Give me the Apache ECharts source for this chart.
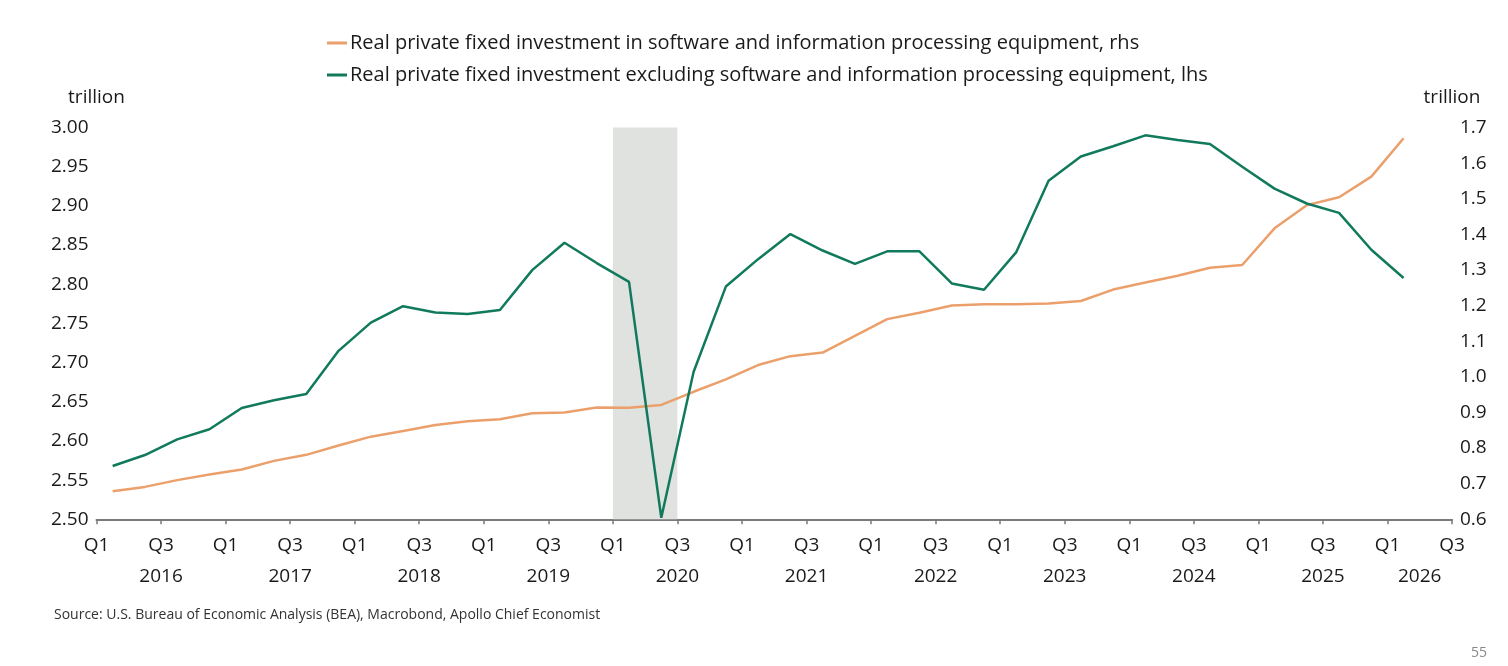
<!DOCTYPE html>
<html>
<head>
<meta charset="utf-8">
<script src="https://cdn.jsdelivr.net/npm/echarts@6/dist/echarts.min.js"></script>
<style>
  html, body { margin: 0; padding: 0; background: #fff; }
  #chart { width: 1508px; height: 666px; }
</style>
</head>
<body>
<div id="chart"></div>
<script>
// quarters 2016 Q1 .. 2026 Q1, one value per quarter
var firstYear = 2016;
var quarterCount = 42; // axis runs 2016 Q1 .. 2026 Q3

// Real private fixed investment excluding software & info processing equipment (lhs)
var exSoftware = [
    2.568, 2.582, 2.602, 2.615, 2.642, 2.652, 2.660, 2.715, 2.751, 2.772,
    2.764, 2.762, 2.767, 2.818, 2.853, 2.827, 2.803, 2.502, 2.688, 2.797,
    2.832, 2.864, 2.843, 2.826, 2.842, 2.842, 2.801, 2.793, 2.841, 2.932,
    2.963, 2.976, 2.990, 2.984, 2.979, 2.950, 2.922, 2.903, 2.891, 2.844,
    2.808
];
// Real private fixed investment in software & info processing equipment (rhs)
var software = [
    0.679, 0.691, 0.710, 0.726, 0.740, 0.764, 0.781, 0.807, 0.832, 0.848,
    0.865, 0.875, 0.881, 0.898, 0.900, 0.914, 0.913, 0.921, 0.958, 0.993,
    1.033, 1.058, 1.068, 1.115, 1.162, 1.180, 1.200, 1.204, 1.204, 1.206,
    1.213, 1.245, 1.265, 1.284, 1.306, 1.314, 1.417, 1.482, 1.504, 1.562,
    1.670
];
// recession band, in quarters from 2016 Q1
var recession = [16, 18];

var nameSoft = 'Real private fixed investment in software and information processing equipment, rhs';
var nameEx = 'Real private fixed investment excluding software and information processing equipment, lhs';

var FONT = 'Open Sans';
var TXT = '#1a1a1a';

// points sit mid-quarter
function toPoints(arr) {
    return arr.map(function (v, i) { return [i + 0.5, v]; });
}

var myChart = echarts.init(document.getElementById('chart'));
var option = {
    backgroundColor: '#fff',
    animation: false,
    textStyle: { fontFamily: FONT },
    legend: {
        orient: 'vertical',
        left: 322,
        top: 28,
        itemWidth: 20,
        itemHeight: 3,
        itemGap: 12,
        icon: 'rect',
        textStyle: { fontFamily: FONT, fontSize: 20, color: TXT, padding: [0, 0, 0, -2] },
        data: [nameSoft, nameEx]
    },
    grid: { left: 96.5, right: 56, top: 127.5, bottom: 146.7, containLabel: false },
    xAxis: [{
        type: 'value',
        min: 0,
        max: quarterCount,
        interval: 2,
        axisLine: { show: true, lineStyle: { color: '#7a7a7a', width: 2 } },
        axisTick: { show: true, length: 5, lineStyle: { color: '#7a7a7a', width: 1.5 } },
        splitLine: { show: false },
        axisLabel: {
            fontFamily: FONT, fontSize: 19, color: TXT, margin: 17,
            formatter: function (v) { return v % 4 === 0 ? 'Q1' : 'Q3'; }
        }
    }, {
        // year row
        type: 'value',
        position: 'bottom',
        min: 0,
        max: quarterCount,
        interval: 1,
        axisLine: { show: false },
        axisTick: { show: false },
        splitLine: { show: false },
        axisLabel: {
            fontFamily: FONT, fontSize: 19, color: TXT, margin: 48,
            formatter: function (v) {
                if (v % 4 === 2 && v < 40) return String(firstYear + (v - 2) / 4);
                if (v === 41) return String(firstYear + 10);
                return '';
            }
        }
    }],
    yAxis: [{
        type: 'value',
        min: 2.5,
        max: 3.0,
        interval: 0.05,
        name: 'trillion',
        nameLocation: 'end',
        nameGap: 20,
        nameTextStyle: { fontFamily: FONT, fontSize: 19, color: TXT },
        axisLine: { show: false },
        axisTick: { show: false },
        splitLine: { show: false },
        axisLabel: {
            fontFamily: FONT, fontSize: 19, color: TXT, margin: 8,
            formatter: function (v) { return v.toFixed(2); }
        }
    }, {
        type: 'value',
        position: 'right',
        min: 0.6,
        max: 1.7,
        interval: 0.1,
        axisLine: { show: false },
        axisTick: { show: false },
        splitLine: { show: false },
        axisLabel: {
            fontFamily: FONT, fontSize: 19, color: TXT, margin: 8,
            formatter: function (v) { return v.toFixed(1); }
        }
    }],
    series: [{
        name: nameSoft,
        type: 'line',
        yAxisIndex: 1,
        data: toPoints(software),
        symbol: 'none',
        color: '#eba06c',
        lineStyle: { width: 2.5, color: '#eba06c' },
        z: 3
    }, {
        name: nameEx,
        type: 'line',
        yAxisIndex: 0,
        data: toPoints(exSoftware),
        symbol: 'none',
        color: '#117a5c',
        lineStyle: { width: 2.5, color: '#117a5c' },
        z: 4,
        markArea: {
            silent: true,
            itemStyle: { color: '#e0e2e0' },
            data: [[{ xAxis: recession[0] }, { xAxis: recession[1] }]]
        }
    }],
    graphic: [{
        type: 'text',
        left: 54,
        top: 608,
        style: {
            text: 'Source: U.S. Bureau of Economic Analysis (BEA), Macrobond, Apollo Chief Economist',
            font: '14px "Open Sans"',
            fill: '#333'
        }
    }, {
        type: 'text',
        left: 1471,
        top: 646,
        style: { text: '55', font: '14px "Open Sans"', fill: '#888' }
    }]
};
myChart.setOption(option);

// right-hand unit label, placed over the right axis top
var topRight = myChart.convertToPixel({ xAxisIndex: 0, yAxisIndex: 1 }, [quarterCount, 1.7]);
myChart.setOption({
    graphic: [{
        id: 'rhsName',
        type: 'text',
        x: topRight[0],
        y: topRight[1] - 20,
        style: {
            text: 'trillion',
            font: '19px "Open Sans"',
            fill: TXT,
            align: 'center',
            verticalAlign: 'bottom'
        }
    }]
});
</script>
</body>
</html>
